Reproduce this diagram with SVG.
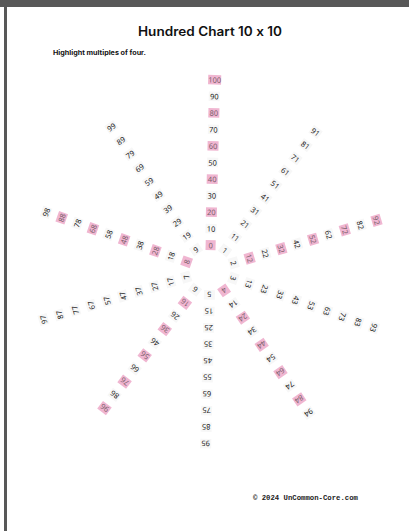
<svg xmlns="http://www.w3.org/2000/svg" width="409" height="531" viewBox="0 0 409 531">
<style>
.t{font-family:"Noto Sans","Open Sans",sans-serif;font-size:7.5px;fill:#222;text-anchor:middle;dominant-baseline:central}
.hl .t{fill:#7a5f6c}
.b{fill:#f7f7f7}
.h{fill:#f0b6d1}
.title{font-family:Inter,"Noto Sans",sans-serif;font-feature-settings:"calt" 0;font-variant-ligatures:none;font-weight:600;font-size:12.5px;fill:#111;text-anchor:middle}
.sub{font-family:Inter,"Noto Sans",sans-serif;font-weight:700;font-size:6.5px;fill:#111}
.foot{font-family:"Liberation Mono","DejaVu Sans Mono",monospace;font-weight:700;font-size:6.8px;fill:#222}
</style>
<defs>
<rect id="bx" class="b" x="-5.5" y="-4.75" width="11" height="9.5"/>
<rect id="hx" class="h" x="-5.5" y="-4.75" width="11" height="9.5"/>
</defs>
<rect x="0" y="0" width="409" height="531" fill="#fff"/>
<rect x="0" y="0" width="409" height="7" fill="#585858"/>
<rect x="4" y="0" width="3" height="531" fill="#585858"/>
<text class="title" x="210" y="35.5" textLength="144" lengthAdjust="spacingAndGlyphs">Hundred Chart 10 x 10</text>
<text class="sub" x="53" y="55" textLength="93" lengthAdjust="spacingAndGlyphs">Highlight multiples of four.</text>
<text class="foot" x="253" y="500" textLength="105" lengthAdjust="spacingAndGlyphs">© 2024 UnCommon-Core.com</text>
<g id="connectors"></g>
<g id="wheel" transform="translate(210,270)">
<g id="spoke0" transform="rotate(1.4)">
<g id="n0" class="hl" transform="translate(0,-24.8)"><rect class="h" x="-5" y="-5" width="10" height="10"/><text class="t">0</text></g>
<g id="n10" transform="translate(0,-41.35)"><use href="#bx"/><text class="t">10</text></g>
<g id="n20" class="hl" transform="translate(0,-57.9)"><use href="#hx"/><text class="t">20</text></g>
<g id="n30" transform="translate(0,-74.45)"><use href="#bx"/><text class="t">30</text></g>
<g id="n40" class="hl" transform="translate(0,-91)"><use href="#hx"/><text class="t">40</text></g>
<g id="n50" transform="translate(0,-107.55)"><use href="#bx"/><text class="t">50</text></g>
<g id="n60" class="hl" transform="translate(0,-124.1)"><use href="#hx"/><text class="t">60</text></g>
<g id="n70" transform="translate(0,-140.65)"><use href="#bx"/><text class="t">70</text></g>
<g id="n80" class="hl" transform="translate(0,-157.2)"><use href="#hx"/><text class="t">80</text></g>
<g id="n90" transform="translate(0,-173.75)"><use href="#bx"/><text class="t">90</text></g>
<g id="n100" class="hl" transform="translate(0,-190.3)"><rect class="h" x="-6.5" y="-4.75" width="13" height="9.5"/><text class="t">100</text></g>
</g>
<g id="spoke1" transform="rotate(37.4)">
<g id="n1" transform="translate(0,-24.8)"><use href="#bx"/><text class="t">1</text></g>
<g id="n11" transform="translate(0,-41.35)"><use href="#bx"/><text class="t">11</text></g>
<g id="n21" transform="translate(0,-57.9)"><use href="#bx"/><text class="t">21</text></g>
<g id="n31" transform="translate(0,-74.45)"><use href="#bx"/><text class="t">31</text></g>
<g id="n41" transform="translate(0,-91)"><use href="#bx"/><text class="t">41</text></g>
<g id="n51" transform="translate(0,-107.55)"><use href="#bx"/><text class="t">51</text></g>
<g id="n61" transform="translate(0,-124.1)"><use href="#bx"/><text class="t">61</text></g>
<g id="n71" transform="translate(0,-140.65)"><use href="#bx"/><text class="t">71</text></g>
<g id="n81" transform="translate(0,-157.2)"><use href="#bx"/><text class="t">81</text></g>
<g id="n91" transform="translate(0,-173.75)"><use href="#bx"/><text class="t">91</text></g>
</g>
<g id="spoke2" transform="rotate(73.4)">
<g id="n2" transform="translate(0,-24.8)"><use href="#bx"/><text class="t">2</text></g>
<g id="n12" class="hl" transform="translate(0,-41.35)"><use href="#hx"/><text class="t">12</text></g>
<g id="n22" transform="translate(0,-57.9)"><use href="#bx"/><text class="t">22</text></g>
<g id="n32" class="hl" transform="translate(0,-74.45)"><use href="#hx"/><text class="t">32</text></g>
<g id="n42" transform="translate(0,-91)"><use href="#bx"/><text class="t">42</text></g>
<g id="n52" class="hl" transform="translate(0,-107.55)"><use href="#hx"/><text class="t">52</text></g>
<g id="n62" transform="translate(0,-124.1)"><use href="#bx"/><text class="t">62</text></g>
<g id="n72" class="hl" transform="translate(0,-140.65)"><use href="#hx"/><text class="t">72</text></g>
<g id="n82" transform="translate(0,-157.2)"><use href="#bx"/><text class="t">82</text></g>
<g id="n92" class="hl" transform="translate(0,-173.75)"><use href="#hx"/><text class="t">92</text></g>
</g>
<g id="spoke3" transform="rotate(109.4)">
<g id="n3" transform="translate(0,-24.8)"><use href="#bx"/><text class="t">3</text></g>
<g id="n13" transform="translate(0,-41.35)"><use href="#bx"/><text class="t">13</text></g>
<g id="n23" transform="translate(0,-57.9)"><use href="#bx"/><text class="t">23</text></g>
<g id="n33" transform="translate(0,-74.45)"><use href="#bx"/><text class="t">33</text></g>
<g id="n43" transform="translate(0,-91)"><use href="#bx"/><text class="t">43</text></g>
<g id="n53" transform="translate(0,-107.55)"><use href="#bx"/><text class="t">53</text></g>
<g id="n63" transform="translate(0,-124.1)"><use href="#bx"/><text class="t">63</text></g>
<g id="n73" transform="translate(0,-140.65)"><use href="#bx"/><text class="t">73</text></g>
<g id="n83" transform="translate(0,-157.2)"><use href="#bx"/><text class="t">83</text></g>
<g id="n93" transform="translate(0,-173.75)"><use href="#bx"/><text class="t">93</text></g>
</g>
<g id="spoke4" transform="rotate(145.4)">
<g id="n4" class="hl" transform="translate(0,-24.8)"><rect class="h" x="-5" y="-5" width="10" height="10"/><text class="t">4</text></g>
<g id="n14" transform="translate(0,-41.35)"><use href="#bx"/><text class="t">14</text></g>
<g id="n24" class="hl" transform="translate(0,-57.9)"><use href="#hx"/><text class="t">24</text></g>
<g id="n34" transform="translate(0,-74.45)"><use href="#bx"/><text class="t">34</text></g>
<g id="n44" class="hl" transform="translate(0,-91)"><use href="#hx"/><text class="t">44</text></g>
<g id="n54" transform="translate(0,-107.55)"><use href="#bx"/><text class="t">54</text></g>
<g id="n64" class="hl" transform="translate(0,-124.1)"><use href="#hx"/><text class="t">64</text></g>
<g id="n74" transform="translate(0,-140.65)"><use href="#bx"/><text class="t">74</text></g>
<g id="n84" class="hl" transform="translate(0,-157.2)"><use href="#hx"/><text class="t">84</text></g>
<g id="n94" transform="translate(0,-173.75)"><use href="#bx"/><text class="t">94</text></g>
</g>
<g id="spoke5" transform="rotate(181.4)">
<g id="n5" transform="translate(0,-24.8)"><use href="#bx"/><text class="t">5</text></g>
<g id="n15" transform="translate(0,-41.35)"><use href="#bx"/><text class="t">15</text></g>
<g id="n25" transform="translate(0,-57.9)"><use href="#bx"/><text class="t">25</text></g>
<g id="n35" transform="translate(0,-74.45)"><use href="#bx"/><text class="t">35</text></g>
<g id="n45" transform="translate(0,-91)"><use href="#bx"/><text class="t">45</text></g>
<g id="n55" transform="translate(0,-107.55)"><use href="#bx"/><text class="t">55</text></g>
<g id="n65" transform="translate(0,-124.1)"><use href="#bx"/><text class="t">65</text></g>
<g id="n75" transform="translate(0,-140.65)"><use href="#bx"/><text class="t">75</text></g>
<g id="n85" transform="translate(0,-157.2)"><use href="#bx"/><text class="t">85</text></g>
<g id="n95" transform="translate(0,-173.75)"><use href="#bx"/><text class="t">95</text></g>
</g>
<g id="spoke6" transform="rotate(217.4)">
<g id="n6" transform="translate(0,-24.8)"><use href="#bx"/><text class="t">6</text></g>
<g id="n16" class="hl" transform="translate(0,-41.35)"><use href="#hx"/><text class="t">16</text></g>
<g id="n26" transform="translate(0,-57.9)"><use href="#bx"/><text class="t">26</text></g>
<g id="n36" class="hl" transform="translate(0,-74.45)"><use href="#hx"/><text class="t">36</text></g>
<g id="n46" transform="translate(0,-91)"><use href="#bx"/><text class="t">46</text></g>
<g id="n56" class="hl" transform="translate(0,-107.55)"><use href="#hx"/><text class="t">56</text></g>
<g id="n66" transform="translate(0,-124.1)"><use href="#bx"/><text class="t">66</text></g>
<g id="n76" class="hl" transform="translate(0,-140.65)"><use href="#hx"/><text class="t">76</text></g>
<g id="n86" transform="translate(0,-157.2)"><use href="#bx"/><text class="t">86</text></g>
<g id="n96" class="hl" transform="translate(0,-173.75)"><use href="#hx"/><text class="t">96</text></g>
</g>
<g id="spoke7" transform="rotate(253.4)">
<g id="n7" transform="translate(0,-24.8)"><use href="#bx"/><text class="t">7</text></g>
<g id="n17" transform="translate(0,-41.35)"><use href="#bx"/><text class="t">17</text></g>
<g id="n27" transform="translate(0,-57.9)"><use href="#bx"/><text class="t">27</text></g>
<g id="n37" transform="translate(0,-74.45)"><use href="#bx"/><text class="t">37</text></g>
<g id="n47" transform="translate(0,-91)"><use href="#bx"/><text class="t">47</text></g>
<g id="n57" transform="translate(0,-107.55)"><use href="#bx"/><text class="t">57</text></g>
<g id="n67" transform="translate(0,-124.1)"><use href="#bx"/><text class="t">67</text></g>
<g id="n77" transform="translate(0,-140.65)"><use href="#bx"/><text class="t">77</text></g>
<g id="n87" transform="translate(0,-157.2)"><use href="#bx"/><text class="t">87</text></g>
<g id="n97" transform="translate(0,-173.75)"><use href="#bx"/><text class="t">97</text></g>
</g>
<g id="spoke8" transform="rotate(289.4)">
<g id="n8" class="hl" transform="translate(0,-24.8)"><rect class="h" x="-5" y="-5" width="10" height="10"/><text class="t">8</text></g>
<g id="n18" transform="translate(0,-41.35)"><use href="#bx"/><text class="t">18</text></g>
<g id="n28" class="hl" transform="translate(0,-57.9)"><use href="#hx"/><text class="t">28</text></g>
<g id="n38" transform="translate(0,-74.45)"><use href="#bx"/><text class="t">38</text></g>
<g id="n48" class="hl" transform="translate(0,-91)"><use href="#hx"/><text class="t">48</text></g>
<g id="n58" transform="translate(0,-107.55)"><use href="#bx"/><text class="t">58</text></g>
<g id="n68" class="hl" transform="translate(0,-124.1)"><use href="#hx"/><text class="t">68</text></g>
<g id="n78" transform="translate(0,-140.65)"><use href="#bx"/><text class="t">78</text></g>
<g id="n88" class="hl" transform="translate(0,-157.2)"><use href="#hx"/><text class="t">88</text></g>
<g id="n98" transform="translate(0,-173.75)"><use href="#bx"/><text class="t">98</text></g>
</g>
<g id="spoke9" transform="rotate(325.4)">
<g id="n9" transform="translate(0,-24.8)"><use href="#bx"/><text class="t">9</text></g>
<g id="n19" transform="translate(0,-41.35)"><use href="#bx"/><text class="t">19</text></g>
<g id="n29" transform="translate(0,-57.9)"><use href="#bx"/><text class="t">29</text></g>
<g id="n39" transform="translate(0,-74.45)"><use href="#bx"/><text class="t">39</text></g>
<g id="n49" transform="translate(0,-91)"><use href="#bx"/><text class="t">49</text></g>
<g id="n59" transform="translate(0,-107.55)"><use href="#bx"/><text class="t">59</text></g>
<g id="n69" transform="translate(0,-124.1)"><use href="#bx"/><text class="t">69</text></g>
<g id="n79" transform="translate(0,-140.65)"><use href="#bx"/><text class="t">79</text></g>
<g id="n89" transform="translate(0,-157.2)"><use href="#bx"/><text class="t">89</text></g>
<g id="n99" transform="translate(0,-173.75)"><use href="#bx"/><text class="t">99</text></g>
</g>
</g>
</svg>
